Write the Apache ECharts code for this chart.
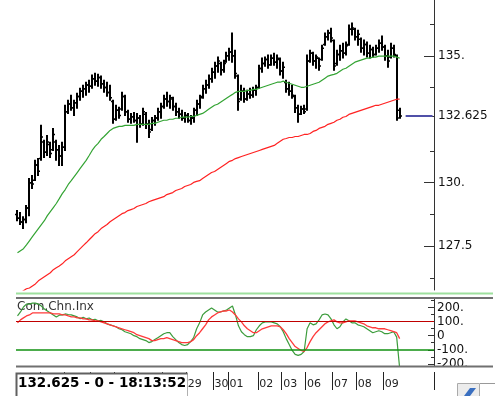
<!DOCTYPE html>
<html><head><meta charset="utf-8">
<script src="https://cdn.jsdelivr.net/npm/echarts@6/dist/echarts.min.js"></script>
<style>html,body{margin:0;padding:0;background:#fff}#c{width:495px;height:396px}</style>
</head><body><div id="c"></div>
<script>
// ---- data ----
const days = ['18','19','22','23','24','25','26','29','30','01','02','03','06','07','08','09'];
const barsPerDay = [8,8,9,8,8,8,8,9,5,10,8,8,9,8,9,6];

const open = [128.75,128.60,128.45,128.55,129.00,130.00,130.10,130.70,130.95,131.60,
131.20,131.50,131.30,131.60,131.30,131.05,131.40,132.80,133.10,132.95,
133.15,133.40,133.60,133.70,133.85,133.80,134.10,134.00,134.15,133.90,
133.75,133.55,133.20,132.50,132.85,132.90,133.40,132.80,132.50,132.60,
132.45,132.55,132.30,132.70,132.30,132.10,132.45,132.55,132.80,133.00,
133.30,133.20,133.30,133.00,132.80,132.70,132.55,132.65,132.45,132.55,
132.85,133.10,133.40,133.70,133.85,134.10,134.35,134.60,134.70,134.45,
134.80,135.00,135.15,135.00,134.20,133.30,133.60,133.30,133.50,133.45,
133.65,133.75,134.50,134.70,134.85,134.65,134.90,134.75,134.85,134.40,
133.95,133.70,133.60,133.40,132.95,132.70,132.90,132.90,134.80,135.10,
134.80,134.90,134.85,135.45,135.75,135.90,135.60,134.70,135.05,135.20,
135.10,135.45,136.05,136.05,135.75,135.65,135.30,135.45,135.10,135.25,
135.05,135.30,135.50,135.35,135.00,134.95,135.30,135.00,132.85];
const high = [128.90,128.82,128.66,129.10,130.16,130.28,130.88,130.95,132.26,131.67,
131.86,131.59,132.14,131.67,131.47,131.59,133.05,133.25,133.45,133.25,
133.52,133.72,133.84,133.96,134.04,134.24,134.31,134.27,134.20,134.04,
133.96,133.84,133.25,133.05,132.97,133.56,133.45,132.85,132.73,132.77,
132.73,132.65,132.93,132.77,132.46,132.57,132.65,132.93,133.13,133.45,
133.56,133.45,133.37,133.13,132.93,132.85,132.77,132.73,132.65,132.93,
133.25,133.45,133.84,134.04,134.24,134.51,134.75,134.95,134.75,134.83,
135.14,135.30,135.90,135.22,134.24,133.84,133.72,133.64,133.72,133.76,
133.84,134.63,134.91,134.95,135.03,135.03,135.10,135.03,134.91,134.75,
134.04,133.96,133.84,133.45,133.05,133.01,133.05,135.03,135.22,135.14,
135.03,134.91,135.42,135.90,136.01,136.09,135.62,135.22,135.42,135.50,
135.54,136.21,136.29,136.09,136.01,135.70,135.62,135.54,135.42,135.34,
135.42,135.62,135.78,135.42,135.22,135.50,135.42,135.03,132.93];
const low = [128.50,128.35,128.19,128.42,128.70,129.77,130.09,130.28,130.88,130.99,
131.07,130.99,131.27,130.88,130.68,130.68,131.27,132.73,132.85,132.65,
132.93,133.25,133.37,133.45,133.56,133.72,133.84,133.80,133.72,133.56,
133.41,133.25,132.34,132.46,132.54,132.85,132.65,132.38,132.34,132.38,
131.59,132.18,132.26,132.14,131.78,132.06,132.26,132.46,132.54,132.93,
133.01,132.93,132.85,132.65,132.54,132.46,132.38,132.38,132.30,132.38,
132.65,132.93,133.33,133.52,133.72,133.96,134.12,134.35,134.24,134.35,
134.75,134.83,134.75,134.12,132.85,133.25,133.17,133.25,133.33,133.37,
133.45,133.72,134.35,134.59,134.51,134.63,134.63,134.51,134.24,134.12,
133.56,133.45,133.33,132.77,132.38,132.69,132.73,132.85,134.75,134.63,
134.51,134.43,134.83,135.42,135.62,135.54,134.43,134.63,134.83,134.91,
135.03,135.42,135.82,135.62,135.42,135.14,135.03,134.95,134.91,134.95,
135.03,135.14,135.22,134.83,134.55,134.91,134.95,132.46,132.54];
const close = [128.60,128.45,128.55,129.00,130.00,129.95,130.70,130.45,131.80,131.20,
131.60,131.15,131.90,131.30,131.05,131.40,132.80,133.10,132.95,133.15,
133.40,133.60,133.70,133.85,133.80,134.10,134.00,134.15,133.90,133.75,
133.55,133.35,132.50,132.85,132.65,133.40,132.80,132.50,132.60,132.45,
132.55,132.30,132.80,132.30,132.00,132.45,132.55,132.80,133.00,133.30,
133.20,133.35,133.00,132.80,132.70,132.55,132.65,132.45,132.55,132.85,
133.10,133.35,133.70,133.85,134.10,134.35,134.60,134.80,134.45,134.70,
135.00,135.15,135.00,134.30,133.20,133.60,133.30,133.50,133.45,133.65,
133.75,134.50,134.70,134.85,134.65,134.90,134.75,134.90,134.40,134.55,
133.70,133.60,133.45,132.95,132.70,132.90,132.80,134.80,135.10,134.80,
134.95,134.60,135.30,135.75,135.90,135.70,134.60,135.05,135.20,135.10,
135.40,136.05,136.10,135.75,135.85,135.30,135.45,135.10,135.25,135.05,
135.30,135.50,135.35,135.00,134.80,135.30,135.05,132.55,132.625];

const maFast = [127.24,127.32,127.40,127.55,127.71,127.87,128.03,128.19,128.35,128.50,
128.70,128.86,129.02,129.18,129.37,129.57,129.73,129.93,130.08,130.24,
130.40,130.56,130.72,130.88,131.07,131.27,131.43,131.55,131.71,131.82,
131.94,132.06,132.14,132.18,132.22,132.22,132.26,132.26,132.26,132.26,
132.30,132.30,132.30,132.30,132.30,132.34,132.34,132.38,132.42,132.46,
132.46,132.50,132.50,132.54,132.54,132.58,132.58,132.58,132.61,132.61,
132.65,132.69,132.73,132.81,132.89,132.97,133.05,133.09,133.17,133.25,
133.33,133.41,133.48,133.56,133.60,133.60,133.60,133.64,133.64,133.68,
133.68,133.72,133.76,133.80,133.84,133.88,133.92,133.96,133.96,134.00,
133.96,133.92,133.88,133.84,133.80,133.76,133.76,133.80,133.84,133.88,
133.92,133.96,134.04,134.12,134.20,134.24,134.27,134.31,134.39,134.47,
134.51,134.59,134.67,134.75,134.79,134.83,134.87,134.91,134.91,134.95,
134.95,134.99,134.99,134.99,134.99,134.99,134.99,134.95,134.91];
const maSlow = [125.58,125.66,125.74,125.82,125.85,125.93,126.01,126.13,126.21,126.29,
126.37,126.45,126.57,126.65,126.72,126.80,126.92,127.00,127.08,127.16,
127.28,127.40,127.52,127.63,127.75,127.87,127.99,128.07,128.19,128.27,
128.35,128.46,128.54,128.62,128.70,128.78,128.82,128.90,128.94,128.98,
129.06,129.10,129.14,129.18,129.25,129.29,129.33,129.37,129.41,129.45,
129.53,129.57,129.61,129.69,129.73,129.77,129.85,129.89,129.93,130.01,
130.05,130.08,130.16,130.24,130.32,130.40,130.44,130.52,130.60,130.68,
130.76,130.84,130.88,130.95,130.99,131.03,131.07,131.11,131.15,131.19,
131.23,131.27,131.31,131.35,131.39,131.43,131.47,131.55,131.63,131.71,
131.74,131.78,131.78,131.82,131.82,131.86,131.90,131.90,131.94,132.02,
132.06,132.14,132.18,132.22,132.30,132.34,132.38,132.46,132.50,132.58,
132.61,132.69,132.73,132.77,132.81,132.85,132.89,132.93,132.97,133.01,
133.05,133.05,133.09,133.13,133.17,133.21,133.25,133.29,133.29];

const cci = [140,168,203,224,224,231,231,224,210,189,
175,161,147,133,145,147,154,150,147,140,
133,120,130,119,125,112,116,105,108,98,
84,77,70,63,49,42,28,21,14,0,
-7,-21,-28,-35,-49,-42,-28,-14,0,14,
21,21,-7,-28,-49,-63,-70,-63,-42,-14,
49,91,147,168,182,196,182,168,168,175,
182,196,210,147,70,28,7,-7,-7,0,
42,70,91,98,98,98,91,84,63,28,
-21,-63,-105,-133,-140,-133,-112,49,91,77,
84,112,147,154,147,119,77,49,63,98,
119,105,91,91,77,70,63,49,35,21,
28,35,28,14,14,21,28,-10,-231];
const cciSignal = [91,112,126,140,147,161,161,161,161,161,
161,161,154,154,154,147,147,140,133,133,
126,126,119,119,112,112,105,105,98,91,
84,77,70,63,56,49,42,35,28,21,
7,0,-7,-14,-21,-35,-35,-28,-21,-21,
-14,-21,-28,-35,-42,-49,-49,-49,-42,-28,
0,21,49,77,112,133,147,161,168,175,
175,182,168,147,119,98,70,49,35,21,
21,35,49,56,63,70,70,70,63,42,
14,-21,-49,-77,-91,-105,-112,-84,-42,-7,
21,42,63,84,98,105,112,98,91,91,
98,105,105,105,98,91,84,70,63,56,
56,49,49,49,42,35,28,21,-21];

const priceTicksMajor = [127.5, 130, 132.625, 135];
const priceTicksMinor = [126.25, 128.75, 131.25, 133.75, 136.25];
const cciTicksMajor = [-200, -100, 0, 100, 200];
const cciTicksMinor = [-150, -50, 50, 150, 250];
const cciLevels = [100, -100];
const statusText = '132.625 - 0 - 18:13:52';
const panelTitle = 'Com.Chn.Inx';

// ---- build ----
const SLOTS = 140;
const cats = [];
days.forEach((d, k) => { for (let j = 0; j < barsPerDay[k]; j++) cats.push(d); });
const nBars = cats.length;
while (cats.length < SLOTS) cats.push(days[days.length - 1]);
const ohlc = open.map((o, i) => [i, o, high[i], low[i], close[i]]);
const lastPrice = close[nBars - 1];
const lastLine = cats.map((_, i) => i > nBars ? lastPrice : null);
const dayStart = (idx) => idx > 0 && idx < nBars && cats[idx] !== cats[idx - 1];

const FONT = 'DejaVu Sans';
const chart = echarts.init(document.getElementById('c'), null, {renderer: 'canvas'});

const priceFmt = v => Math.abs(v - lastPrice) < 1e-9 ? String(lastPrice) : (Number.isInteger(v) ? v + '.' : String(v));
const cciFmt = v => v === 0 ? '0' : v + '.';

chart.setOption({
  animation: false,
  backgroundColor: '#fff',
  grid: [
    {left: 16, top: 0, width: 418, height: 290},
    {left: 16, top: 299, width: 418, height: 67},
    {left: 16, top: 372, width: 418, height: 18}
  ],
  xAxis: [
    {type: 'category', data: cats, gridIndex: 0, show: false, boundaryGap: true},
    {type: 'category', data: cats, gridIndex: 1, show: false, boundaryGap: true},
    {type: 'category', data: cats, gridIndex: 2, boundaryGap: true,
     axisLine: {show: false}, axisTick: {show: false},
     splitLine: {show: true, interval: (i) => dayStart(i), lineStyle: {color: '#222', width: 1}},
     axisLabel: {show: true, inside: true, interval: (i) => dayStart(i), align: 'left', margin: 0,
       fontSize: 11, color: '#222', fontFamily: FONT}}
  ],
  yAxis: [
    {type: 'value', gridIndex: 0, position: 'right', min: 125.77, max: 137.2,
     axisLine: {show: true, lineStyle: {color: '#333'}},
     axisTick: {show: true, inside: true, length: 10, customValues: priceTicksMajor, lineStyle: {color: '#333'}},
     axisLabel: {show: true, customValues: priceTicksMajor, formatter: priceFmt, margin: 4,
       fontSize: 12, color: '#111', fontFamily: FONT},
     splitLine: {show: false}},
    {type: 'value', gridIndex: 0, position: 'right', min: 125.77, max: 137.2,
     axisLine: {show: false},
     axisTick: {show: true, inside: true, length: 4, customValues: priceTicksMinor, lineStyle: {color: '#333'}},
     axisLabel: {show: false}, splitLine: {show: false}},
    {type: 'value', gridIndex: 1, position: 'right', min: -215, max: 260,
     axisLine: {show: true, lineStyle: {color: '#333'}},
     axisTick: {show: true, inside: true, length: 6, customValues: cciTicksMajor, lineStyle: {color: '#333'}},
     axisLabel: {show: true, customValues: cciTicksMajor, formatter: cciFmt, margin: 3,
       fontSize: 12, color: '#111', fontFamily: FONT},
     splitLine: {show: false}},
    {type: 'value', gridIndex: 1, position: 'right', min: -215, max: 260,
     axisLine: {show: false},
     axisTick: {show: true, inside: true, length: 3, customValues: cciTicksMinor, lineStyle: {color: '#333'}},
     axisLabel: {show: false}, splitLine: {show: false}},
    {type: 'value', gridIndex: 2, show: false}
  ],
  series: [
    {type: 'custom', name: 'price', xAxisIndex: 0, yAxisIndex: 0, data: ohlc,
     encode: {x: 0, y: [1, 2, 3, 4]},
     renderItem: function (params, api) {
       const i = api.value(0);
       const pO = api.coord([i, api.value(1)]);
       const yH = api.coord([i, api.value(2)])[1];
       const yL = api.coord([i, api.value(3)])[1];
       const yC = api.coord([i, api.value(4)])[1];
       const x = Math.round(pO[0]);
       const st = {stroke: '#000', lineWidth: 2, fill: null};
       const tk = {stroke: '#000', lineWidth: 1.5, fill: null};
       return {type: 'group', children: [
         {type: 'line', shape: {x1: x, y1: yH - 0.5, x2: x, y2: yL + 0.5}, style: st},
         {type: 'line', shape: {x1: x - 2, y1: pO[1], x2: x, y2: pO[1]}, style: tk},
         {type: 'line', shape: {x1: x, y1: yC, x2: x + 2, y2: yC}, style: tk}
       ]};
     }},
    {type: 'line', name: 'maFast', xAxisIndex: 0, yAxisIndex: 0, data: maFast, showSymbol: false,
     lineStyle: {color: '#34a434', width: 1.2}, z: 3},
    {type: 'line', name: 'maSlow', xAxisIndex: 0, yAxisIndex: 0, data: maSlow, showSymbol: false,
     lineStyle: {color: '#ff2222', width: 1.2}, z: 3},
    {type: 'line', name: 'last', xAxisIndex: 0, yAxisIndex: 0, data: lastLine, showSymbol: false,
     lineStyle: {color: '#5050a8', width: 2}},
    {type: 'line', name: 'cci', xAxisIndex: 1, yAxisIndex: 2, data: cci, showSymbol: false,
     lineStyle: {color: '#3c9c3c', width: 1.2}, z: 3,
     markLine: {symbol: 'none', silent: true, label: {show: false}, animation: false,
       data: [
         {yAxis: cciLevels[0], lineStyle: {color: '#c00000', width: 1, type: 'solid'}},
         {yAxis: cciLevels[1], lineStyle: {color: '#109010', width: 1.5, type: 'solid'}}
       ]}},
    {type: 'line', name: 'cciSignal', xAxisIndex: 1, yAxisIndex: 2, data: cciSignal, showSymbol: false,
     lineStyle: {color: '#ff3a3a', width: 1.3}, z: 4}
  ],
  graphic: [
    {type: 'text', left: 17, top: 301, z: 1, style: {text: panelTitle, font: '12px "DejaVu Sans"', fill: '#333'}},
    {type: 'line', z: 100, shape: {x1: 16, y1: 293.5, x2: 493, y2: 293.5}, style: {stroke: '#9ee09e', lineWidth: 2}},
    {type: 'line', z: 100, shape: {x1: 16, y1: 298, x2: 493, y2: 298}, style: {stroke: '#707070', lineWidth: 2}},
    {type: 'rect', z: 99, shape: {x: 435, y: 366, width: 60, height: 6}, style: {fill: '#fff'}},
    {type: 'line', z: 100, shape: {x1: 16, y1: 366.5, x2: 493, y2: 366.5}, style: {stroke: '#707070', lineWidth: 2}},
    {type: 'rect', z: 100, shape: {x: 16.5, y: 373.5, width: 171, height: 24}, style: {fill: '#fff', stroke: '#b0b0b0', lineWidth: 1}},
    {type: 'polyline', z: 101, shape: {points: [[16.5, 397], [16.5, 373.5], [187.5, 373.5]]}, style: {stroke: '#606060', lineWidth: 2, fill: null}},
    {type: 'text', z: 102, left: 18, top: 376, style: {text: statusText, font: 'bold 13.5px "DejaVu Sans"', fill: '#000'}},
    {type: 'line', z: 100, shape: {x1: 480, y1: 383.5, x2: 495, y2: 383.5}, style: {stroke: '#999', lineWidth: 1}},
    {type: 'rect', z: 100, shape: {x: 457.5, y: 383.5, width: 22, height: 14}, style: {fill: '#ececec', stroke: '#aaa', lineWidth: 1}},
    {type: 'polygon', z: 101, shape: {points: [[464, 396], [470, 388], [476, 388], [470, 396]]}, style: {fill: '#3a6fc0'}}
  ]
});
</script></body></html>
